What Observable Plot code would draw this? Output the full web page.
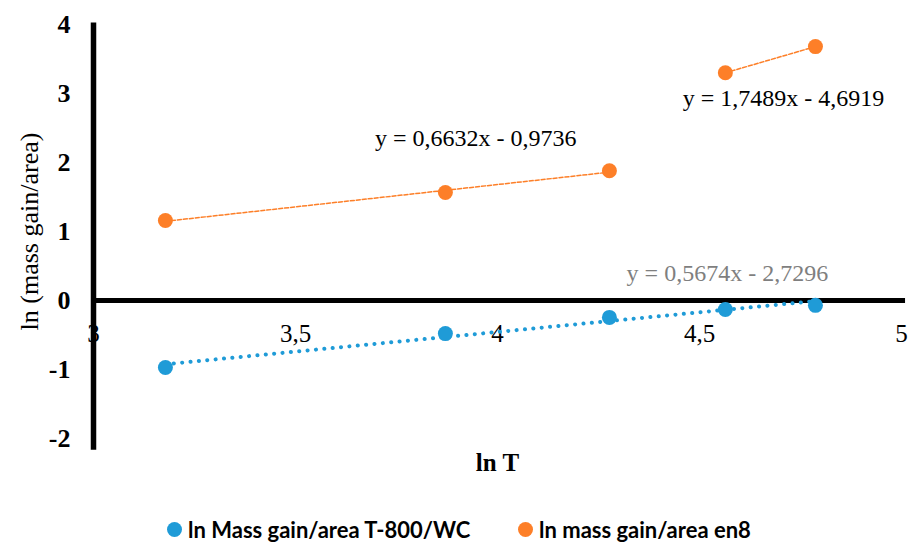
<!DOCTYPE html>
<html>
<head>
<meta charset="utf-8">
<script src="https://cdn.jsdelivr.net/npm/d3@7"></script>
<script src="https://cdn.jsdelivr.net/npm/@observablehq/plot@0.6"></script>
<style>
  html, body { margin: 0; padding: 0; background: #fff; }
  #legend { display: flex; align-items: center; height: 28px; font-family: Lato, "Open Sans", sans-serif; font-weight: bold; font-size: 22px; color: #000; }
  .item { display: flex; align-items: center; position: absolute; }
  .dot { width: 15px; height: 15px; border-radius: 50%; margin-right: 6px; }
</style>
</head>
<body>
<div id="chart"></div>
<div id="legend" style="position:relative;"></div>
<script>
// ---- data ----
const lnT = [3.178, 3.871, 4.277, 4.564, 4.787];
const blueVals = [-0.97, -0.48, -0.245, -0.13, -0.07];
const orangeVals = [1.16, 1.565, 1.88, 3.30, 3.68];
const orangeGroups = ["a", "a", "a", "b", "b"];
const xTicks = [3, 3.5, 4, 4.5, 5];
const yTicks = [-2, -1, 0, 1, 2, 3, 4];
const seriesNames = ["ln Mass gain/area T-800/WC", "ln mass gain/area en8"];
const equations = ["y = 0,5674x - 2,7296", "y = 0,6632x - 0,9736", "y = 1,7489x - 4,6919"];
const eqX = [4.569, 3.946, 4.708];
const eqY = [0.40, 2.35, 2.93];
const eqColors = ["#7f7f7f", "#000", "#000"];
const BLUE = "#1f9bd7";
const ORANGE = "#fd7f28";

const blue = lnT.map((x, i) => ({x, y: blueVals[i]}));
const orange = lnT.map((x, i) => ({x, y: orangeVals[i], g: orangeGroups[i]}));
const eqs = equations.map((t, i) => ({t, x: eqX[i], y: eqY[i], c: eqColors[i]}));
const fmt = d => String(d).replace(".", ",");
const SERIF = "Liberation Serif, Times New Roman, serif";

const chart = Plot.plot({
  width: 910,
  height: 515,
  marginLeft: 93,
  marginRight: 9,
  marginTop: 24,
  marginBottom: 77,
  x: {domain: [3, 5], axis: null},
  y: {domain: [-2, 4], axis: null},
  style: {background: "#fff"},
  marks: [
    // x tick labels
    Plot.text(xTicks, {x: d => d, y: () => 0, dy: 33, text: fmt, fontSize: 25,
      fontFamily: SERIF, fill: "#000"}),
    // y tick labels
    Plot.text(yTicks, {x: () => 3, y: d => d, dx: -23, textAnchor: "end", text: d => String(d),
      fontSize: 26, fontWeight: "bold", fontFamily: SERIF, fill: "#000"}),
    // axes lines
    Plot.ruleX([3], {y1: -2.17, y2: 4.02, strokeWidth: 5.5, stroke: "#000"}),
    Plot.ruleY([0], {x1: 3, x2: 5.01, strokeWidth: 5, stroke: "#000"}),
    // trendlines
    Plot.linearRegressionY(orange, {x: "x", y: "y", z: "g", ci: 0, stroke: ORANGE, strokeWidth: 1.5,
      strokeDasharray: "4,2"}),
    Plot.linearRegressionY(blue, {x: "x", y: "y", ci: 0, stroke: BLUE, strokeWidth: 4,
      strokeDasharray: "0.1,8.3", strokeLinecap: "round"}),
    // points
    Plot.dot(blue, {x: "x", y: "y", r: 7.5, fill: BLUE}),
    Plot.dot(orange, {x: "x", y: "y", r: 7.5, fill: ORANGE}),
    // equations
    Plot.text(eqs, {x: "x", y: "y", text: "t", fill: "c", fontSize: 24, fontFamily: SERIF}),
    // axis titles
    Plot.text(["ln T"], {x: () => 4, y: () => -2, dy: 24, text: d => d, fontSize: 25, fontWeight: "bold",
      fontFamily: SERIF, fill: "#000"}),
    Plot.text(["ln (mass gain/area)"], {frameAnchor: "left", textAnchor: "middle", dx: -64, y: () => 1.0,
      text: d => d, rotate: -90, fontSize: 26, fontFamily: SERIF, fill: "#000"})
  ]
});
document.getElementById("chart").appendChild(chart);

const legend = document.getElementById("legend");
const colors = [BLUE, ORANGE];
const lefts = [167, 518];
seriesNames.forEach((n, i) => {
  const it = document.createElement("div");
  it.className = "item";
  it.style.left = lefts[i] + "px";
  it.innerHTML = `<span class="dot" style="background:${colors[i]}"></span><span>${n}</span>`;
  legend.appendChild(it);
});
</script>
</body>
</html>
